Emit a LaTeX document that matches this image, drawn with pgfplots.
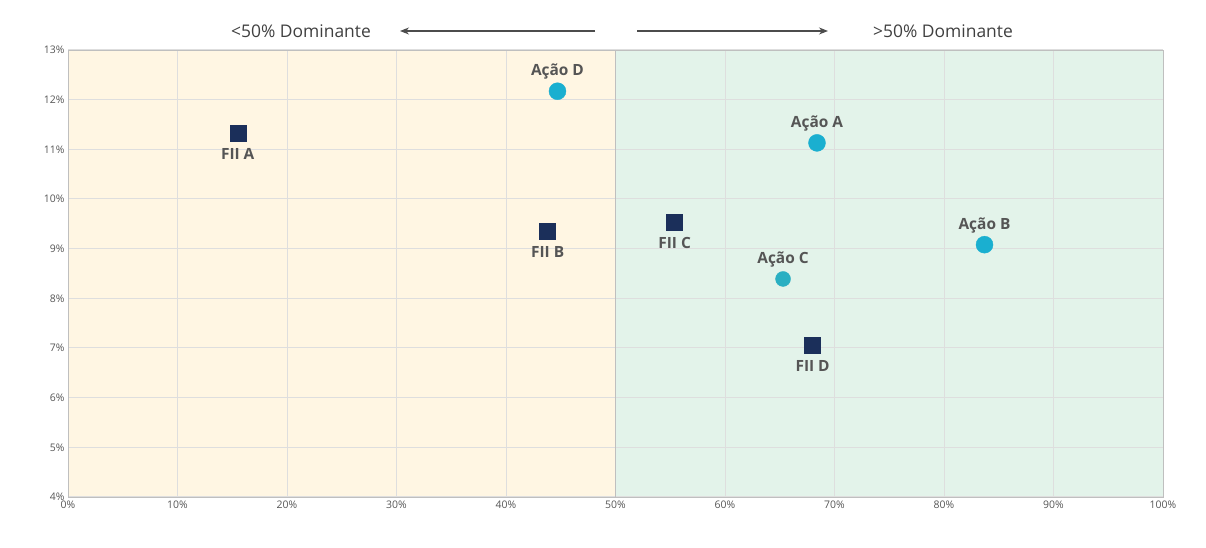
\documentclass[border=0pt]{standalone}
\usepackage{fontspec}
\setmainfont{Open Sans}
\usepackage{pgfplots}
\pgfplotsset{compat=1.18}
\usetikzlibrary{arrows.meta}
\definecolor{navy}{HTML}{1B2F5A}
\definecolor{cy}{HTML}{1AAFD0}
\definecolor{cy2}{HTML}{2AAFC2}
\definecolor{lab}{HTML}{555555}
\definecolor{bgy}{HTML}{FFF6E3}
\definecolor{bgg}{HTML}{E3F3EA}
\begin{document}
\begin{tikzpicture}[x=1bp,y=1bp]
\begin{axis}[name=ax, scale only axis, width=1095bp, height=447bp,
  xmin=0,xmax=100,ymin=4,ymax=13, clip=false,
  xtick={0,10,...,100}, ytick={4,5,...,13},
  xticklabel={\pgfmathprintnumber{\tick}\%}, yticklabel={\pgfmathprintnumber{\tick}\%},
  /pgf/number format/assume math mode=true,
  tick label style={font=\fontsize{10.5}{11}\selectfont, text=lab},
  grid=major, grid style={draw=black!13, line width=1bp},
  axis line style={draw=black!25}, tick style={draw=none},
  set layers]
\addplot[draw=none, fill=bgy, on layer=axis background] coordinates {(0,4)(50,4)(50,13)(0,13)} -- cycle;
\addplot[draw=none, fill=bgg, on layer=axis background] coordinates {(50,4)(100,4)(100,13)(50,13)} -- cycle;
\draw[black!25, line width=1bp] (axis cs:50,4) -- (axis cs:50,13);
\addplot[only marks, mark=square*, mark size=8bp, navy,
  nodes near coords, point meta=explicit symbolic,
  every node near coord/.style={font=\bfseries\fontsize{15.5}{15.5}\selectfont, text=lab, anchor=north, yshift=-12bp}]
  table[meta=l] {
x y l
15.5 11.33 {FII A}
43.8 9.36 {FII B}
55.4 9.54 {FII C}
68.0 7.06 {FII D}
};
\addplot[only marks, mark=*, mark size=8.5bp, cy,
  nodes near coords, point meta=explicit symbolic,
  every node near coord/.style={font=\bfseries\fontsize{15.5}{15.5}\selectfont, text=lab, anchor=south, yshift=8bp}]
  table[meta=l] {
x y l
44.7 12.17 {Ação D}
68.4 11.13 {Ação A}
83.7 9.08 {Ação B}
};
\addplot[only marks, mark=*, mark size=7.5bp, cy2,
  nodes near coords, point meta=explicit symbolic,
  every node near coord/.style={font=\bfseries\fontsize{15.5}{15.5}\selectfont, text=lab, anchor=south, yshift=8bp}]
  table[meta=l] {
x y l
65.3 8.39 {Ação C}
};
\end{axis}
\draw[-{Stealth[length=9bp,width=7bp]}, black!70, line width=1.1bp] ([xshift=527bp,yshift=19bp]ax.north west) -- ([xshift=332bp,yshift=19bp]ax.north west);
\draw[-{Stealth[length=9bp,width=7bp]}, black!70, line width=1.1bp] ([xshift=569bp,yshift=19bp]ax.north west) -- ([xshift=760bp,yshift=19bp]ax.north west);
\node[text=black!75, font=\fontsize{17.5}{18}\selectfont] at ([xshift=233bp,yshift=19bp]ax.north west) {<50\% Dominante};
\node[text=black!75, font=\fontsize{17.5}{18}\selectfont] at ([xshift=875bp,yshift=19bp]ax.north west) {>50\% Dominante};
\useasboundingbox ([xshift=-68bp,yshift=50bp]ax.north west) rectangle ([xshift=43bp,yshift=-51bp]ax.south east);
\end{tikzpicture}
\end{document}
